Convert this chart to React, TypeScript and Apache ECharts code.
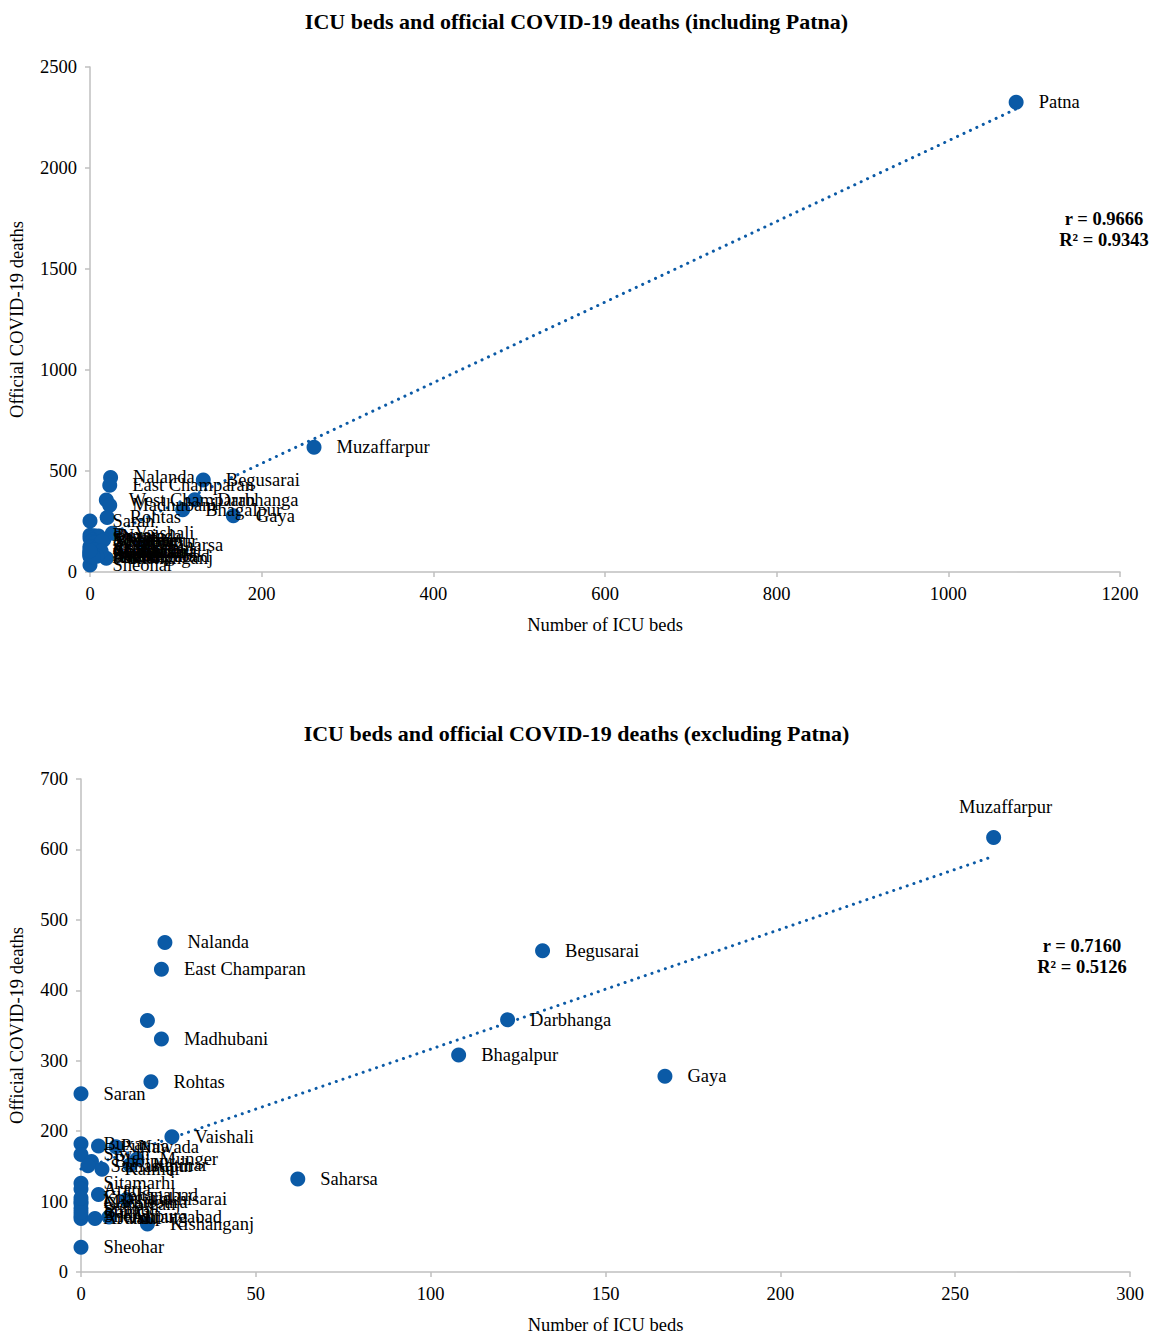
import React, { useEffect, useRef } from "react";
import * as echarts from "echarts";

const districts = [
  "Muzaffarpur", "Nalanda", "East Champaran", "Begusarai", "West Champaran", "Darbhanga",
  "Madhubani", "Bhagalpur", "Gaya", "Rohtas", "Saran", "Vaishali", "Saharsa", "Sheohar",
  "Kishanganj", "Buxar", "Purnia", "Nawada", "Siwan", "Bhojpur", "Munger", "Samastipur",
  "Kaimur", "Katihar", "Sitamarhi", "Araria", "Jehanabad", "Lakhisarai", "Gopalganj",
  "Supaul", "Aurangabad", "Arwal", "Sheikhpura", "Madhepura", "Banka", "Jamui", "Khagaria",
];
const icuBeds = [
  261, 24, 23, 132, 19, 122, 23, 108, 167, 20, 0, 26, 62, 0, 19, 0, 5, 10, 0, 3, 16, 2, 6, 14,
  0, 0, 5, 13, 0, 0, 8, 0, 0, 0, 0, 4, 0,
];
const deaths = [
  617, 468, 430, 456, 357, 358, 331, 308, 278, 270, 253, 192, 132, 35, 68, 182, 179, 178, 167,
  157, 160, 151, 146, 152, 126, 118, 110, 103, 97, 90, 78, 76, 80, 100, 85, 76, 105,
];
const patna = { name: "Patna", icu: 1079, deaths: 2325 };

const hiddenLabelsExcl = ["West Champaran"];
const statsIncl = ["r = 0.9666", "R² = 0.9343"];
const statsExcl = ["r = 0.7160", "R² = 0.5126"];

const COLOR = "#0b5aa6";
const FONT = "'Liberation Serif', 'Times New Roman', serif";
const FS = 18.5;

function regression(xs: number[], ys: number[]) {
  const n = xs.length;
  const mx = xs.reduce((a, b) => a + b, 0) / n;
  const my = ys.reduce((a, b) => a + b, 0) / n;
  let sxy = 0, sxx = 0;
  for (let i = 0; i < n; i++) {
    sxy += (xs[i] - mx) * (ys[i] - my);
    sxx += (xs[i] - mx) * (xs[i] - mx);
  }
  const slope = sxy / sxx;
  const intercept = my - slope * mx;
  const x0 = Math.min(...xs), x1 = Math.max(...xs);
  return [[x0, intercept + slope * x0], [x1, intercept + slope * x1]];
}

export default function App() {
  const ref = useRef<HTMLDivElement>(null);
  useEffect(() => {
    if (!ref.current) return;
    const chart = echarts.init(ref.current, null, { renderer: "svg" });

    const inclNames = [patna.name, ...districts];
    const inclX = [patna.icu, ...icuBeds];
    const inclY = [patna.deaths, ...deaths];

    const axisCommon = {
      axisLine: { show: true, lineStyle: { color: "#bfbfbf", width: 1.5 } },
      axisTick: { show: true, length: 5, lineStyle: { color: "#bfbfbf", width: 1.5 } },
      splitLine: { show: false },
      nameTextStyle: { color: "#000", fontFamily: FONT, fontSize: FS },
      nameLocation: "middle" as const,
    };
    const axisLabel = (margin: number) => ({
      color: "#000",
      fontFamily: FONT,
      fontSize: FS,
      margin,
      formatter: (v: number) => String(v),
    });

    const labelBase = {
      show: true,
      position: "right" as const,
      distance: 15,
      color: "#000",
      fontFamily: FONT,
      fontSize: FS,
      formatter: (p: any) => p.data.name,
    };

    const inclData = inclNames.map((n, i) => ({ name: n, value: [inclX[i], inclY[i]] }));
    const exclData = districts.map((n, i) => {
      const d: any = { name: n, value: [icuBeds[i], deaths[i]] };
      if (hiddenLabelsExcl.includes(n)) d.label = { show: false };
      if (n === "Muzaffarpur") d.label = { position: "top", distance: 13, offset: [12, 0] };
      return d;
    });

    const statText = (lines: string[], x: number, y: number) => ({
      type: "text",
      x,
      y,
      style: {
        text: lines.join("\n"),
        fontFamily: FONT,
        fontSize: FS,
        fontWeight: "bold",
        fill: "#000",
        align: "center",
        verticalAlign: "top",
        lineHeight: 21,
      },
    });

    chart.setOption({
      animation: false,
      backgroundColor: "#fff",
      title: [
        {
          text: "ICU beds and official COVID-19 deaths (including Patna)",
          left: "center",
          top: 5,
          textStyle: { fontFamily: FONT, fontSize: 22, fontWeight: "bold", color: "#000" },
        },
        {
          text: "ICU beds and official COVID-19 deaths (excluding Patna)",
          left: "center",
          top: 717,
          textStyle: { fontFamily: FONT, fontSize: 22, fontWeight: "bold", color: "#000" },
        },
      ],
      grid: [
        { left: 90, width: 1030, top: 67, height: 505, outerBoundsMode: "none", containLabel: false },
        { left: 81, width: 1049, top: 779, height: 493, outerBoundsMode: "none", containLabel: false },
      ],
      xAxis: [
        { ...axisCommon, axisLabel: axisLabel(12), gridIndex: 0, type: "value", min: 0, max: 1200, interval: 200, name: "Number of ICU beds", nameGap: 43 },
        { ...axisCommon, axisLabel: axisLabel(12), gridIndex: 1, type: "value", min: 0, max: 300, interval: 50, name: "Number of ICU beds", nameGap: 43 },
      ],
      yAxis: [
        { ...axisCommon, axisLabel: axisLabel(13), gridIndex: 0, type: "value", min: 0, max: 2500, interval: 500, name: "Official COVID-19 deaths", nameGap: 64 },
        { ...axisCommon, axisLabel: axisLabel(13), gridIndex: 1, type: "value", min: 0, max: 700, interval: 100, name: "Official COVID-19 deaths", nameGap: 55 },
      ],
      series: [
        {
          type: "line",
          xAxisIndex: 0,
          yAxisIndex: 0,
          data: regression(inclX, inclY),
          symbol: "none",
          lineStyle: { color: COLOR, width: 3, type: [0.1, 7], cap: "round" },
          z: 1,
          silent: true,
        },
        {
          type: "scatter",
          xAxisIndex: 0,
          yAxisIndex: 0,
          data: inclData,
          symbolSize: 15,
          itemStyle: { color: COLOR, opacity: 1 },
          label: labelBase,
          z: 2,
        },
        {
          type: "line",
          xAxisIndex: 1,
          yAxisIndex: 1,
          data: regression(icuBeds, deaths),
          symbol: "none",
          lineStyle: { color: COLOR, width: 3, type: [0.1, 7], cap: "round" },
          z: 1,
          silent: true,
        },
        {
          type: "scatter",
          xAxisIndex: 1,
          yAxisIndex: 1,
          data: exclData,
          symbolSize: 15,
          itemStyle: { color: COLOR, opacity: 1 },
          label: labelBase,
          z: 2,
        },
      ],
      graphic: [statText(statsIncl, 1104, 208), statText(statsExcl, 1082, 935)],
    });

    return () => chart.dispose();
  }, []);

  return (
    <div
      ref={ref}
      style={{ position: "absolute", left: 0, top: 0, width: 1153, height: 1333 }}
    />
  );
}
